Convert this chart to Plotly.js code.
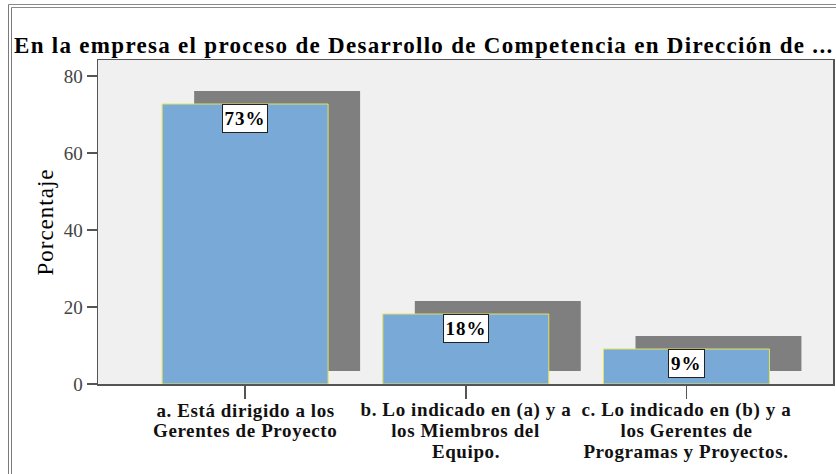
<!DOCTYPE html>
<html>
<head>
<meta charset="utf-8">
<script src="https://cdn.plot.ly/plotly-3.0.1.min.js"></script>
<style>
  html, body { margin: 0; padding: 0; background: #ffffff; }
  #wrap { position: relative; width: 836px; height: 474px; }
  #chart { width: 836px; height: 474px; }
  #frame { position: absolute; left: 8px; top: 4px; right: -10px; bottom: -10px;
           border-left: 4px double #7a7a7a; border-top: 4px double #8a8a8a;
           pointer-events: none; }
  #chart .gtitle { letter-spacing: 1.3px; }
  #chart .annotation-text { letter-spacing: 0.6px; }
  #chart .annotation[data-index="0"] .annotation-text,
  #chart .annotation[data-index="1"] .annotation-text,
  #chart .annotation[data-index="2"] .annotation-text,
  #chart .annotation[data-index="11"] .annotation-text { letter-spacing: 1px; }
</style>
</head>
<body>
<div id="wrap">
  <div id="chart"></div>
  <div id="frame"></div>
</div>
<script>
// ---- data ----
const titleText = "En la empresa el proceso de Desarrollo de Competencia en Dirección de ...";
const yAxisTitle = "Porcentaje";
const categories = [
  "a. Está dirigido a los<br>Gerentes de Proyecto",
  "b. Lo indicado en (a) y a<br>los Miembros del<br>Equipo.",
  "c. Lo indicado en (b) y a<br>los Gerentes de<br>Programas y Proyectos."
];
const values = [72.73, 18.18, 9.09];
const valueLabels = ["73%", "18%", "9%"];
const yTicks = [0, 20, 40, 60, 80];

// ---- styling ----
const serif = "Liberation Serif, Times New Roman, serif";
const barWidth = 0.752;
const shadowDx = 0.145;
const shadowDy = 3.4;

const shadow = {
  type: "bar", x: categories, y: values,
  base: values.map(() => shadowDy),
  width: values.map(() => barWidth),
  offset: values.map(() => -barWidth / 2 + shadowDx),
  marker: { color: "#7f7f7f", line: { width: 0 } },
  hoverinfo: "skip", showlegend: false
};
const bars = {
  type: "bar", x: categories, y: values,
  width: values.map(() => barWidth),
  offset: values.map(() => -barWidth / 2),
  marker: { color: "#79a9d6", line: { color: "#e3e35a", width: 1 } },
  showlegend: false
};

const annotations = [];
values.forEach((v, i) => {
  annotations.push({
    x: categories[i], y: v, xref: "x", yref: "y",
    text: "<b>" + valueLabels[i] + "</b>", showarrow: false,
    yanchor: "top", xanchor: "center",
    bgcolor: "#ffffff", bordercolor: "#222222", borderwidth: 1, borderpad: 3,
    font: { family: serif, size: 19, color: "#000000" }
  });
});
categories.forEach((c, i) => {
  c.split("<br>").forEach((line, j) => {
    annotations.push({
      x: c, y: 0, xref: "x", yref: "paper",
      text: "<b>" + line + "</b>", showarrow: false,
      xanchor: "center", yanchor: "middle",
      yshift: -26 - j * 20.6,
      font: { family: serif, size: 19, color: "#111111" }
    });
  });
});
annotations.push({
  x: -0.0727, y: 0.5, xref: "paper", yref: "paper",
  text: yAxisTitle, textangle: -90, showarrow: false,
  xanchor: "center", yanchor: "middle",
  font: { family: serif, size: 23, color: "#000000" }
});

const layout = {
  width: 836, height: 474,
  margin: { l: 97.5, r: 3, t: 60, b: 90 },
  paper_bgcolor: "#ffffff",
  plot_bgcolor: "#f0f0f0",
  barmode: "overlay",
  title: {
    text: "<b>" + titleText + "</b>",
    x: 14 / 836, xref: "container", xanchor: "left",
    y: 1 - 45 / 474, yref: "container", yanchor: "middle",
    font: { family: serif, size: 23, color: "#000000" }
  },
  xaxis: {
    type: "category", range: [-0.6667, 2.664],
    showticklabels: false, ticks: "outside", ticklen: 13, tickwidth: 1.5, tickcolor: "#555555",
    showline: true, linecolor: "#555555", linewidth: 1.5, mirror: true,
    showgrid: false, zeroline: false, fixedrange: true
  },
  yaxis: {
    range: [0, 84.16], tickvals: yTicks, ticktext: yTicks.map(String),
    ticks: "outside", ticklen: 10, tickwidth: 1.5, tickcolor: "#555555",
    tickfont: { family: serif, size: 19, color: "#444444" },
    showline: true, linecolor: "#555555", linewidth: 1.5, mirror: true,
    showgrid: false, zeroline: false, fixedrange: true
  },
  annotations: annotations
};

Plotly.newPlot("chart", [shadow, bars], layout, { displayModeBar: false, staticPlot: true });
</script>
</body>
</html>
